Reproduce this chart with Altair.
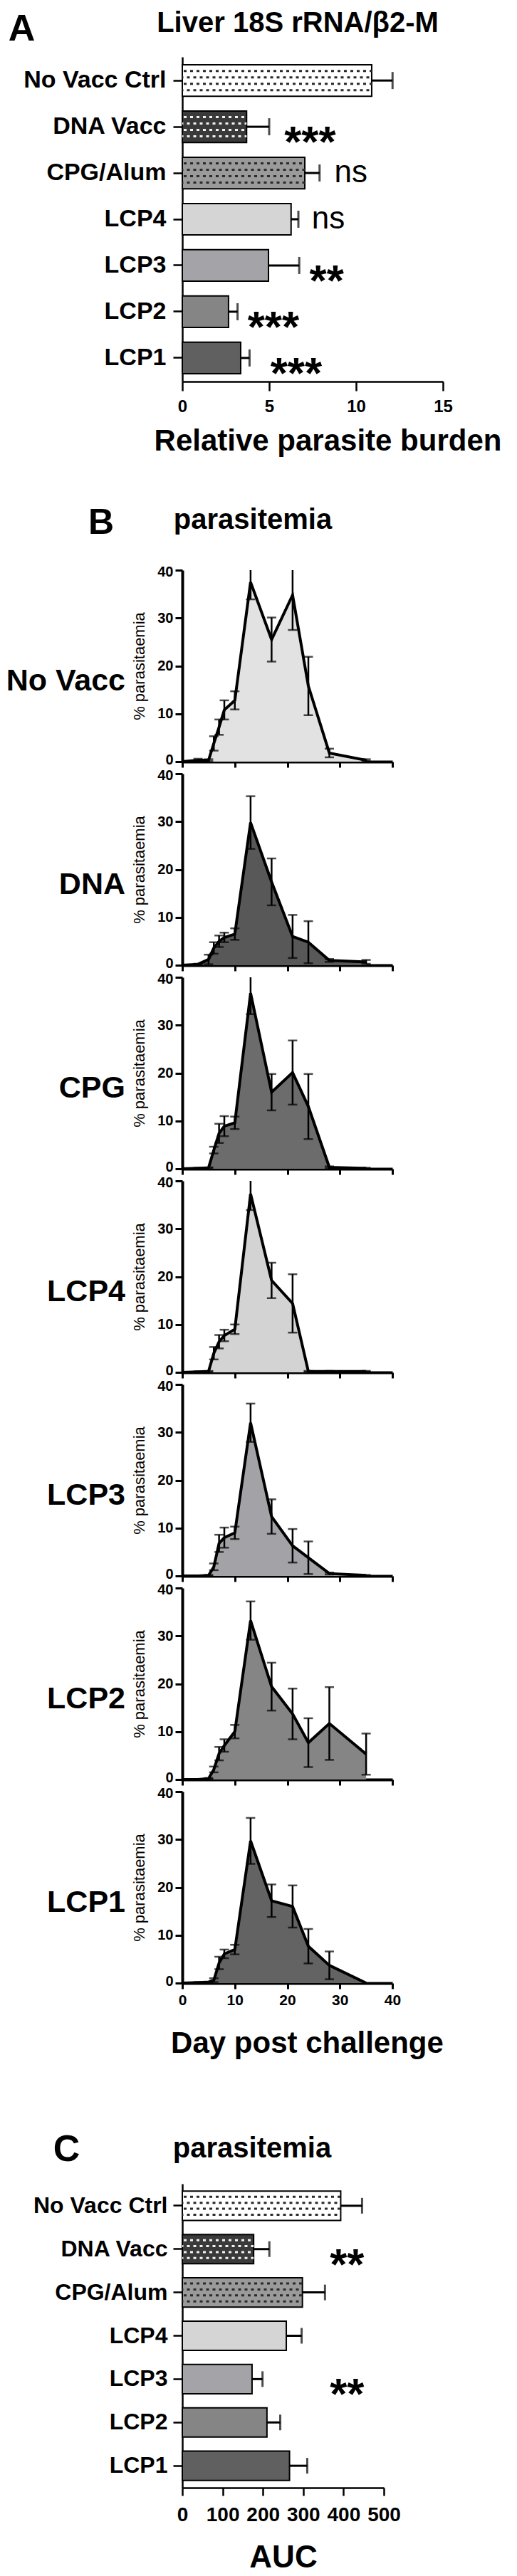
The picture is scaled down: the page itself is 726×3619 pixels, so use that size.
import altair as alt
import pandas as pd

FONT = "Liberation Sans"

# ---------------- Panels A and C: groups ----------------
groups = ["No Vacc Ctrl", "DNA Vacc", "CPG/Alum", "LCP4", "LCP3", "LCP2", "LCP1"]
bar_fill = ["#ffffff", "#3a3a3a", "#9a9a9a", "#d5d5d5", "#a4a4a8", "#858585", "#606060"]
bar_dots = ["#2a2a2a", "#f2f2f2", "#2a2a2a", "", "", "", ""]

# Panel A: relative parasite burden (mean, SEM)
burden_mean = [10.9, 3.7, 7.05, 6.26, 4.96, 2.66, 3.36]
burden_err = [1.2, 1.3, 0.85, 0.42, 1.77, 0.52, 0.51]
burden_sig = ["", "***", "ns", "ns", "**", "***", "***"]
burden_sig_x = [0, 5.87, 8.75, 7.45, 7.32, 3.76, 5.07]

# Panel C: AUC of parasitemia (mean, SEM)
auc_mean = [393, 177, 298, 258, 173, 210, 266]
auc_err = [53, 39, 56, 38, 26, 33, 44]
auc_sig = ["", "**", "", "", "**", "", ""]
auc_sig_x = [0, 366, 0, 0, 366, 0, 0]

# ---------------- Panel B: parasitemia time courses ----------------
days = [0, 3, 5, 6, 7, 8, 10, 13, 17, 21, 24, 28, 35]
panel_names = ["No Vacc", "DNA", "CPG", "LCP4", "LCP3", "LCP2", "LCP1"]
panel_fill = ["#e2e2e2", "#585858", "#6c6c6c", "#d3d3d3", "#a3a3a7", "#858585", "#636363"]

novacc_mean = [0, 0.3, 0.3, 3.8, 7.2, 10.8, 12.8, 37.5, 25.5, 34.8, 15.8, 1.8, 0.3]
novacc_err = [0, 0.3, 0.2, 1.5, 1.6, 2.0, 1.9, 3.6, 4.6, 7.3, 6.1, 0.9, 0.2]
dna_mean = [0, 0.2, 1.2, 3.6, 5.0, 5.8, 6.5, 29.8, 17.4, 6.0, 4.8, 1.0, 0.7]
dna_err = [0, 0.1, 1.0, 1.2, 1.2, 1.0, 1.2, 5.5, 4.9, 4.5, 4.4, 0.3, 0.4]
cpg_mean = [0, 0.1, 0.2, 3.9, 7.4, 8.9, 9.6, 36.7, 16.0, 20.1, 13.0, 0.3, 0.1]
cpg_err = [0, 0.1, 0.1, 0.7, 2.0, 2.1, 1.3, 4.4, 3.8, 6.7, 6.8, 0.2, 0.1]
lcp4_mean = [0, 0.1, 0.2, 4.0, 6.4, 7.7, 9.0, 37.3, 19.2, 14.4, 0.2, 0.2, 0.2]
lcp4_err = [0, 0.1, 0.1, 1.3, 1.4, 1.2, 1.0, 3.4, 3.7, 6.1, 0.1, 0.1, 0.1]
lcp3_mean = [0, 0.0, 0.1, 1.9, 6.8, 8.0, 9.0, 32.0, 12.4, 6.3, 3.8, 0.5, 0.1]
lcp3_err = [0, 0.0, 0.1, 0.7, 1.8, 2.1, 1.3, 4.0, 3.6, 3.5, 3.4, 0.2, 0.1]
lcp2_mean = [0, 0.0, 0.2, 2.1, 5.4, 7.1, 10.0, 33.2, 19.4, 13.7, 7.7, 11.7, 5.3]
lcp2_err = [0, 0.0, 0.1, 0.6, 1.4, 1.3, 1.4, 4.0, 5.0, 5.3, 5.1, 7.6, 4.3]
lcp1_mean = [0, 0.1, 0.2, 0.6, 4.2, 6.1, 7.0, 29.7, 17.2, 16.0, 7.7, 3.7, 0.0]
lcp1_err = [0, 0.1, 0.1, 0.4, 1.3, 0.9, 1.0, 4.8, 3.4, 4.4, 3.6, 2.9, 0.0]

para_mean = [novacc_mean, dna_mean, cpg_mean, lcp4_mean, lcp3_mean, lcp2_mean, lcp1_mean]
para_err = [novacc_err, dna_err, cpg_err, lcp4_err, lcp3_err, lcp2_err, lcp1_err]

letters = ["A", "B", "C"]
headings = ["Liver 18S rRNA/\u03b22-M", "parasitemia", "parasitemia"]
x_titles = ["Relative parasite burden", "Day post challenge", "AUC"]
y_title_b = "% parasitaemia"

B_W, B_H = 295, 269


def text_layer(txt, fs, px, py, align="center", baseline="alphabetic"):
    return (
        alt.Chart(pd.DataFrame({"t": [txt]}))
        .mark_text(font=FONT, fontSize=fs, fontWeight="bold", align=align,
                   baseline=baseline, color="black")
        .encode(text="t:N", x=alt.value(px), y=alt.value(py))
    )


def heading(height, items):
    layers = [text_layer(*it) for it in items]
    return alt.layer(*layers).properties(width=300, height=height)


def bar_panel(means, errs, sig, sig_x, xmax, xvals, width, height, label_size,
              label_pad, tick_label_size, tick_label_pad, xtick, xtitle,
              xtitle_size, xtitle_x, xtitle_y, dot_rows, cap_size, pad_inner):
    df = pd.DataFrame({"group": groups, "mean": means, "err": errs, "fill": bar_fill,
                       "dots": bar_dots, "sig": sig, "sig_x": sig_x})
    df["hi"] = df["mean"] + df["err"]
    df["zero"] = 0.0

    xscale = alt.Scale(domain=[0, xmax], nice=False, zero=True)
    xaxis = alt.Axis(values=xvals, title=xtitle, grid=False, labelFont=FONT,
                     labelFontSize=tick_label_size, labelFontWeight="bold",
                     labelColor="black", labelPadding=tick_label_pad, labelFlush=False,
                     labelOverlap=False, tickSize=xtick, tickWidth=2.5, tickColor="black",
                     domainColor="black", domainWidth=2.5, titleFont=FONT,
                     titleFontSize=xtitle_size, titleFontWeight="bold", titleColor="black",
                     titleX=xtitle_x, titleY=xtitle_y, titleAlign="center",
                     titleBaseline="middle")
    yaxis = alt.Axis(title=None, labelFont=FONT, labelFontSize=label_size,
                     labelFontWeight="bold", labelColor="black", labelPadding=label_pad,
                     labelLimit=600, tickSize=13, tickWidth=2.5, tickColor="black",
                     domainColor="black", domainWidth=2.5)
    y = alt.Y("group:N", sort=groups,
              scale=alt.Scale(paddingInner=pad_inner, paddingOuter=0.17), axis=yaxis)

    def X(field):
        return alt.X(field, type="quantitative", scale=xscale, axis=xaxis)

    base = alt.Chart(df)
    layers = [base.mark_bar(stroke="black", strokeWidth=2).encode(
        x=X("mean"), y=y, fill=alt.Fill("fill:N", scale=None))]
    for k, off in enumerate(dot_rows):
        layers.append(
            base.transform_filter("datum.dots != ''")
            .mark_rule(strokeWidth=3, strokeDash=[4, 5],
                       strokeDashOffset=7 if k % 2 == 0 else 2.5, yOffset=off)
            .encode(x=X("zero"), x2=alt.X2("mean"), y=y,
                    stroke=alt.Stroke("dots:N", scale=None))
        )
    layers.append(base.mark_rule(color="black", strokeWidth=3).encode(
        x=X("mean"), x2=alt.X2("hi"), y=y))
    layers.append(base.mark_tick(color="black", thickness=3, size=cap_size).encode(
        x=X("hi"), y=y))
    layers.append(
        base.transform_filter("indexof(datum.sig, '*') >= 0")
        .mark_text(font=FONT, fontSize=62, fontWeight="bold", align="left",
                   baseline="alphabetic", dy=42, color="black")
        .encode(x=X("sig_x"), y=y, text="sig:N")
    )
    layers.append(
        base.transform_filter("datum.sig == 'ns'")
        .mark_text(font=FONT, fontSize=44, align="left", baseline="alphabetic",
                   dy=13, color="black")
        .encode(x=X("sig_x"), y=y, text="sig:N")
    )
    return alt.layer(*layers).properties(width=width, height=height)


def para_panel(k):
    df = pd.DataFrame({"day": days, "mean": para_mean[k], "err": para_err[k]})
    df["lo"] = (df["mean"] - df["err"]).clip(lower=0)
    df["hi"] = df["mean"] + df["err"]
    last = k == len(panel_names) - 1

    xscale = alt.Scale(domain=[0, 40], nice=False)
    yscale = alt.Scale(domain=[0, 40], nice=False)
    xkw = dict(values=[0, 10, 20, 30, 40], grid=False, labels=last, tickSize=8,
               tickWidth=3, tickColor="black", domainColor="black", domainWidth=4,
               labelFont=FONT, labelFontSize=21, labelFontWeight="bold",
               labelColor="black", labelPadding=5, labelFlush=False, labelOverlap=False)
    if last:
        xkw.update(title=x_titles[1], titleFont=FONT, titleFontSize=42,
                   titleFontWeight="bold", titleColor="black", titleX=175, titleY=84,
                   titleAlign="center", titleBaseline="middle")
    else:
        xkw.update(title=None)
    xaxis = alt.Axis(**xkw)
    yaxis = alt.Axis(values=[0, 10, 20, 30, 40], grid=False, title=y_title_b,
                     titleFont=FONT, titleFontSize=22, titleFontWeight="normal",
                     titleColor="black", titlePadding=13, labelFont=FONT,
                     labelFontSize=20, labelFontWeight="bold", labelColor="black",
                     labelPadding=3, labelFlush=True, labelFlushOffset=7.5,
                     tickSize=10, tickWidth=3, tickColor="black",
                     domainColor="black", domainWidth=4)
    X = alt.X("day:Q", scale=xscale, axis=xaxis)

    def Y(f):
        return alt.Y(f, type="quantitative", scale=yscale, axis=yaxis)

    base = alt.Chart(df)
    eb = base.transform_filter("datum.err > 0")
    area = base.mark_area(color=panel_fill[k], opacity=1).encode(x=X, y=Y("mean"))
    rule = eb.mark_rule(color="black", strokeWidth=2.5, clip=True).encode(
        x=X, y=Y("lo"), y2=alt.Y2("hi"))
    cap_hi = eb.mark_tick(color="black", orient="horizontal", size=13, thickness=2.5,
                          clip=True).encode(x=X, y=Y("hi"))
    cap_lo = eb.mark_tick(color="black", orient="horizontal", size=13, thickness=2.5,
                          clip=True).encode(x=X, y=Y("lo"))
    line = base.mark_line(color="black", strokeWidth=4, strokeJoin="miter").encode(
        x=X, y=Y("mean"))
    label = text_layer(panel_names[k], 43, -80, B_H / 2 + 21, align="right",
                       baseline="middle")
    return alt.layer(area, rule, cap_hi, cap_lo, line, label).properties(
        width=B_W, height=B_H)


head_a = heading(55, [(letters[0], 52, -225.5, 49), (headings[0], 40, 162, 37)])
chart_a = bar_panel(burden_mean, burden_err, burden_sig, burden_sig_x, xmax=15,
                    xvals=[0, 5, 10, 15], width=366, height=456, label_size=34,
                    label_pad=10, tick_label_size=24, tick_label_pad=10, xtick=13,
                    xtitle=x_titles[0], xtitle_size=42, xtitle_x=204, xtitle_y=83,
                    dot_rows=[-13.5, -4.5, 4.5, 13.5], cap_size=24, pad_inner=0.32)
head_b = heading(231, [(letters[1], 50, -114, 197), (headings[1], 40, 99, 190)])
panels_b = [para_panel(k) for k in range(len(panel_names))]
head_c = heading(248, [(letters[2], 52, -162.5, 233), (headings[2], 40, 98, 228)])
chart_c = bar_panel(auc_mean, auc_err, auc_sig, auc_sig_x, xmax=500,
                    xvals=[0, 100, 200, 300, 400, 500], width=283, height=427,
                    label_size=32, label_pad=8, tick_label_size=28, tick_label_pad=13,
                    xtick=11, xtitle=x_titles[2], xtitle_size=44, xtitle_x=141.5,
                    xtitle_y=98, dot_rows=[-12.6, -4.2, 4.2, 12.6], cap_size=22,
                    pad_inner=0.326)

chart = (
    alt.vconcat(head_a, chart_a, head_b, *panels_b, head_c, chart_c,
                spacing=17, bounds="flush", padding=0)
    .configure(font=FONT)
    .configure_view(stroke=None)
)

chart.save("out.html", embed_options={"renderer": "svg", "actions": False})
